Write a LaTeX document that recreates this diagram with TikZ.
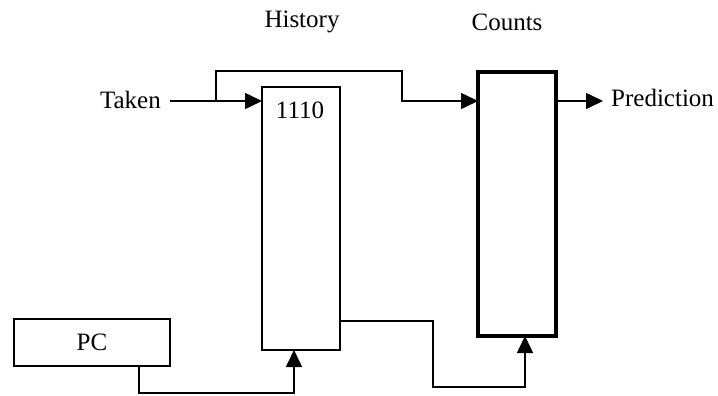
\documentclass[tikz,border=0pt]{standalone}
\usepackage{fontspec}
\setmainfont{Liberation Serif}
\usetikzlibrary{arrows.meta}
\begin{document}
\begin{tikzpicture}[x=1pt,y=-1pt,
  box/.style={draw, line width=1.6pt, inner sep=0, outer sep=0, anchor=north west},
  heavybox/.style={box, line width=3.2pt},
  wire/.style={line width=1.6pt},
  arr/.style={wire, -{Triangle[length=17pt,width=16pt]}},
  lbl/.style={font=\fontsize{25}{29}\selectfont, inner sep=0}]
\useasboundingbox (0,0) rectangle (718,396);

% registers and tables
\node[box, minimum width=78pt, minimum height=263pt] (hist) at (262,87) {};
\node[heavybox, minimum width=78pt, minimum height=264pt] (counts) at (478,72) {};
\node[box, minimum width=156pt, minimum height=47pt] (pc) at (14,319) {};
\node[lbl] at (pc.center) {PC};

% labels
\node[lbl] (histlbl) at (302,22) {History};
\node[lbl] (countslbl) at (507,22) {Counts};
\node[lbl] (val) at (300,110) {1110};
\node[lbl, anchor=east, inner xsep=9pt] (taken) at (170,100) {Taken};
\node[lbl, anchor=west] (pred) at (611,98) {Prediction};

% taken outcome: shifted into history, also feeds the counter table
\draw[arr] (taken.east |- 0,101) -- ([yshift=-14pt]hist.north west);
\draw[arr] ([xshift=46pt]taken.east |- 0,101) -- ++(0,-30) -| (402,101)
  -- ([yshift=-29pt]counts.north west);

% prediction output
\draw[arr] ([yshift=-29pt]counts.north east) -- ([xshift=-8pt]pred.west |- 0,101);

% PC indexes the history table
\draw[arr] ([xshift=47pt]pc.south) |- (294,393) -- ([xshift=-7pt]hist.south);

% history selects the counter
\draw[arr] ([yshift=29pt]hist.south east) -| (433,387) -| ([xshift=8pt]counts.south);
\end{tikzpicture}
\end{document}
